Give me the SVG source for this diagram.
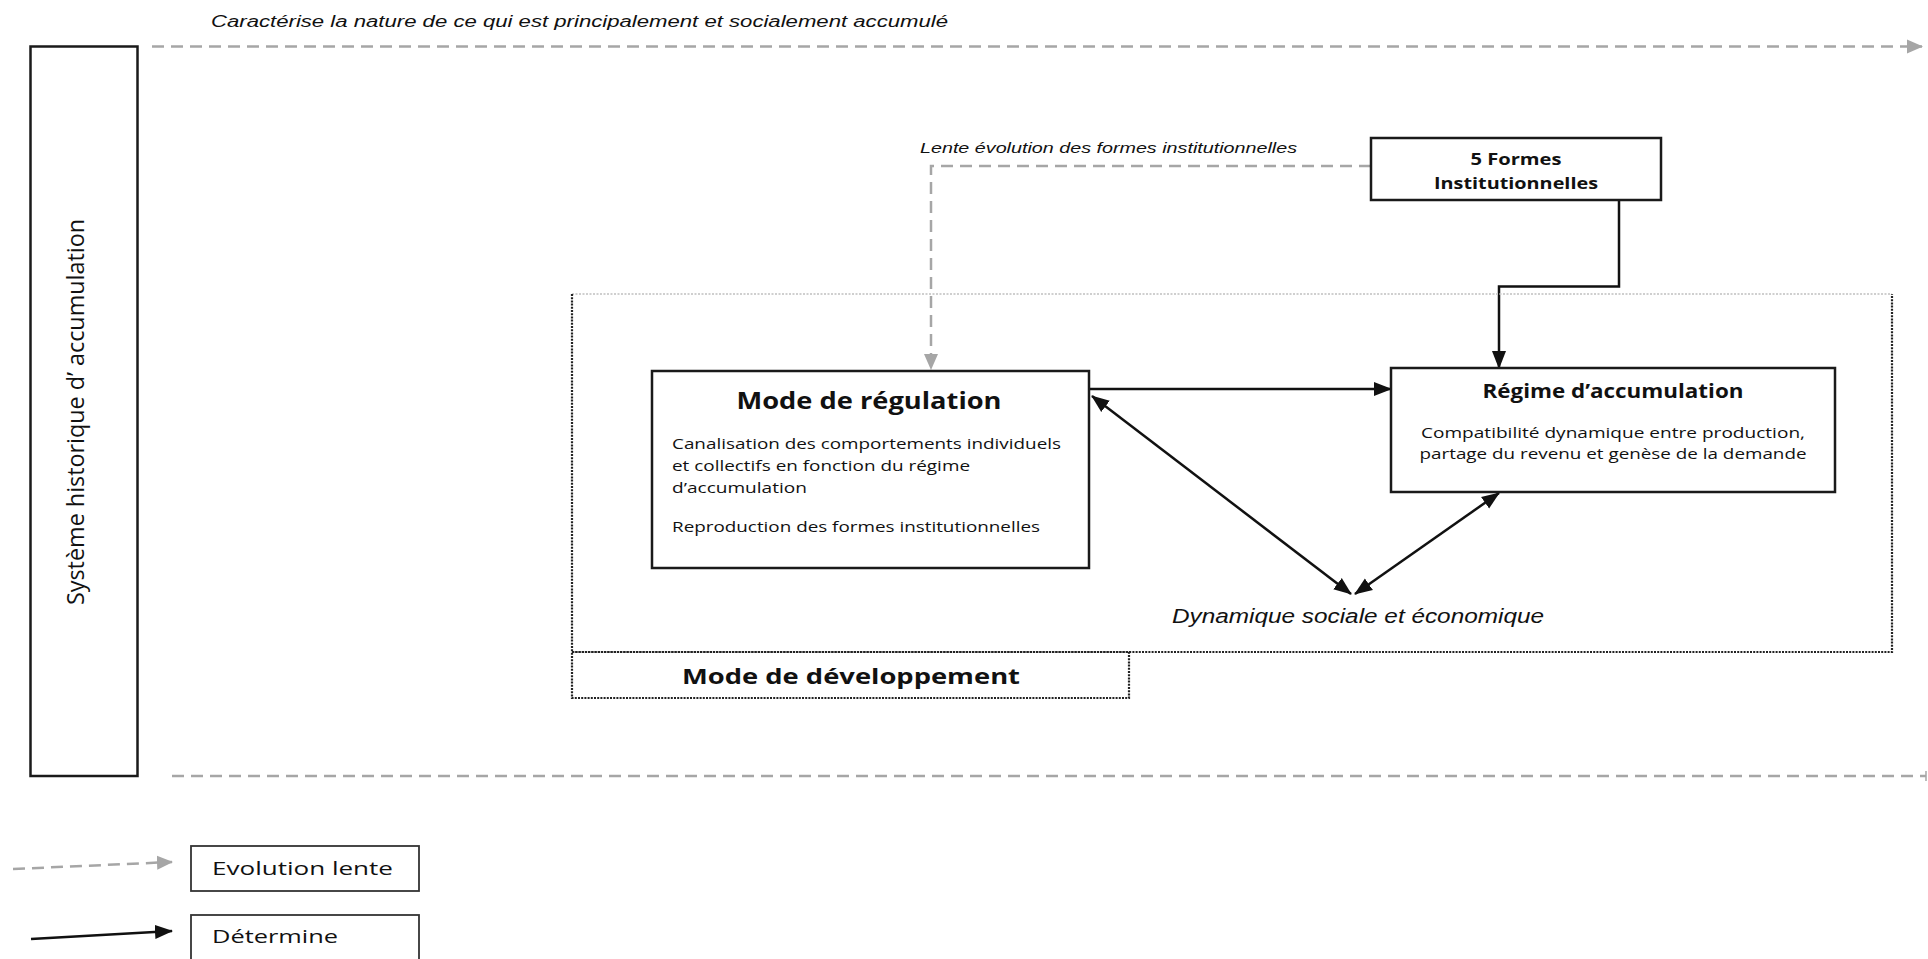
<svg xmlns="http://www.w3.org/2000/svg" width="1928" height="959" viewBox="0 0 1928 959">
<style>
.box{fill:#fff;stroke:#1a1a1a;stroke-width:2.5}
.lbox{fill:#fff;stroke:#333;stroke-width:1.8}
.t{font-family:"Open Sans","Liberation Sans",sans-serif;fill:#111}
.b{font-weight:bold}
.i{font-family:"Liberation Sans",sans-serif;font-style:italic;fill:#111}
.slow{fill:none;stroke:#a6a6a6;stroke-width:2.5;stroke-dasharray:12 7}
.det{fill:none;stroke:#111;stroke-width:2.5}
.dot{fill:none;stroke:#222;stroke-width:2.2;stroke-dasharray:2 1.2}
.dotl{fill:none;stroke:#cfcfcf;stroke-width:2;stroke-dasharray:2 1.5}
</style>
<defs>
<marker id="ag" markerUnits="userSpaceOnUse" markerWidth="16" markerHeight="16" viewBox="0 0 16 16" refX="15" refY="8" orient="auto"><path d="M0,1 L16,8 L0,15 Z" fill="#a6a6a6"/></marker>
<marker id="ab" markerUnits="userSpaceOnUse" markerWidth="18" markerHeight="16" viewBox="0 0 18 16" refX="17" refY="8" orient="auto"><path d="M0,1 L18,8 L0,15 Z" fill="#111"/></marker>
<marker id="abs" markerUnits="userSpaceOnUse" markerWidth="18" markerHeight="16" viewBox="0 0 18 16" refX="1" refY="8" orient="auto"><path d="M18,1 L0,8 L18,15 Z" fill="#111"/></marker>
</defs>
<rect width="1928" height="959" fill="#fff"/>

<g id="connectors">
<line class="slow" x1="152" y1="46.5" x2="1922" y2="46.5" marker-end="url(#ag)"/>
<line class="slow" x1="172" y1="776" x2="1926" y2="776"/>
<line x1="1926" y1="771" x2="1926" y2="781" stroke="#a6a6a6" stroke-width="1.5"/>
<polyline class="slow" points="1371,166 931,166 931,369" marker-end="url(#ag)"/>
<polyline class="det" points="1619,200 1619,286.5 1499,286.5 1499,368" marker-end="url(#ab)"/>
<line class="det" x1="1089" y1="389" x2="1391" y2="389" marker-end="url(#ab)"/>
<line class="det" x1="1092" y1="396" x2="1351" y2="594" marker-start="url(#abs)" marker-end="url(#ab)"/>
<line class="det" x1="1355" y1="594" x2="1499" y2="493" marker-start="url(#abs)" marker-end="url(#ab)"/>
<line class="slow" x1="13" y1="869" x2="172" y2="862" marker-end="url(#ag)"/>
<line class="det" x1="31" y1="939" x2="172" y2="931" marker-end="url(#ab)"/>
</g>

<text class="i" x="211" y="27" font-size="16" textLength="737" lengthAdjust="spacingAndGlyphs">Caractérise la nature de ce qui est principalement et socialement accumulé</text>
<text class="i" x="920" y="153" font-size="15" textLength="377" lengthAdjust="spacingAndGlyphs">Lente évolution des formes institutionnelles</text>

<g id="systeme">
<rect class="box" x="30.5" y="46.5" width="107" height="729.5"/>
<text class="t" transform="translate(84,412) rotate(-90)" text-anchor="middle" font-size="23" fill="#111" textLength="386" lengthAdjust="spacingAndGlyphs">Système historique d’  accumulation</text>
</g>

<g id="mode-developpement">
<line class="dotl" x1="572" y1="294" x2="1892" y2="294"/>
<polyline class="dot" points="572,294 572,652 1892,652 1892,294"/>
<rect class="dot" x="572" y="652" width="557" height="46"/>
<text class="t b" x="851" y="684" text-anchor="middle" font-size="22" textLength="338" lengthAdjust="spacingAndGlyphs">Mode de développement</text>
</g>

<g id="formes">
<rect class="box" x="1371" y="138" width="290" height="62"/>
<text class="t b" x="1516" y="165" text-anchor="middle" font-size="16" textLength="91" lengthAdjust="spacingAndGlyphs">5 Formes</text>
<text class="t b" x="1516" y="189" text-anchor="middle" font-size="16" textLength="164" lengthAdjust="spacingAndGlyphs">Institutionnelles</text>
</g>

<g id="mode-regulation">
<rect class="box" x="652" y="371" width="437" height="197"/>
<text class="t b" x="869" y="409" text-anchor="middle" font-size="23" textLength="265" lengthAdjust="spacingAndGlyphs">Mode de régulation</text>
<text class="t" x="672" y="449" font-size="15" textLength="389" lengthAdjust="spacingAndGlyphs">Canalisation des comportements individuels</text>
<text class="t" x="672" y="471" font-size="15" textLength="298" lengthAdjust="spacingAndGlyphs">et collectifs en fonction du régime</text>
<text class="t" x="672" y="493" font-size="15" textLength="135" lengthAdjust="spacingAndGlyphs">d’accumulation</text>
<text class="t" x="672" y="532" font-size="15" textLength="368" lengthAdjust="spacingAndGlyphs">Reproduction des formes institutionnelles</text>
</g>

<g id="regime">
<rect class="box" x="1391" y="368" width="444" height="124"/>
<text class="t b" x="1613" y="398" text-anchor="middle" font-size="19" textLength="261" lengthAdjust="spacingAndGlyphs">Régime d’accumulation</text>
<text class="t" x="1613" y="438" text-anchor="middle" font-size="15" textLength="384" lengthAdjust="spacingAndGlyphs">Compatibilité dynamique entre production,</text>
<text class="t" x="1613" y="459" text-anchor="middle" font-size="15" textLength="387" lengthAdjust="spacingAndGlyphs">partage du revenu et genèse de la demande</text>
</g>

<g id="dynamique">
<text class="i" x="1358" y="623" text-anchor="middle" font-size="20" textLength="372" lengthAdjust="spacingAndGlyphs">Dynamique sociale et économique</text>
</g>

<g id="legend-evolution">
<rect class="lbox" x="191" y="846" width="228" height="45"/>
<text class="t" x="212" y="875" font-size="19" textLength="181" lengthAdjust="spacingAndGlyphs">Evolution lente</text>
</g>
<g id="legend-determine">
<rect class="lbox" x="191" y="915" width="228" height="50"/>
<text class="t" x="212" y="943" font-size="19" textLength="126" lengthAdjust="spacingAndGlyphs">Détermine</text>
</g>
</svg>
